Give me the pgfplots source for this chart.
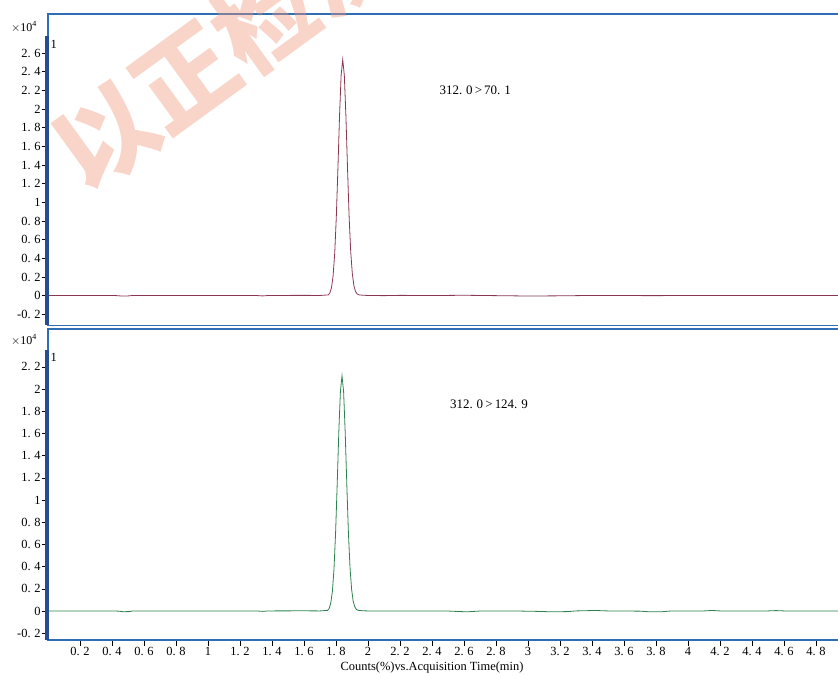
\documentclass[border=0pt]{standalone}
\usepackage{fontspec}
\setmainfont{Liberation Serif}
\newfontfamily\cjk{Noto Sans CJK SC}
\usepackage{pgfplots}
\usepackage{pgfplotstable}
\pgfplotsset{compat=1.18}
\definecolor{framecol}{RGB}{45,110,180}
\definecolor{barcol}{RGB}{40,75,150}
\definecolor{redtrace}{RGB}{140,55,80}
\definecolor{greentrace}{RGB}{45,130,80}
\definecolor{wm}{RGB}{240,150,120}
\newcommand{\dd}{.\hspace{0.3em}}

\pgfplotstableread{
x y
0.00 0.002
0.20 0.002
0.40 0.002
0.43 0.000
0.46 -0.004
0.50 -0.003
0.53 0.002
0.80 0.002
1.00 0.002
1.30 0.002
1.34 -0.003
1.38 0.002
1.60 0.003
1.70 0.002
1.752 0.008
1.762 0.030
1.772 0.088
1.782 0.214
1.792 0.455
1.802 0.845
1.812 1.365
1.822 1.923
1.832 2.362
1.842 2.530
1.852 2.362
1.862 1.923
1.872 1.365
1.882 0.845
1.892 0.470
1.902 0.235
1.912 0.105
1.922 0.045
1.932 0.018
1.945 0.008
1.97 0.004
2.00 0.002
2.10 0.000
2.20 0.003
2.40 0.001
2.60 0.004
2.80 0.000
3.00 -0.004
3.20 -0.002
3.40 0.002
3.60 0.001
3.80 0.000
4.00 0.002
4.20 0.002
4.50 0.001
4.90 0.002
5.00 0.002
}\toptrace

\pgfplotstableread{
x y
0.00 0.002
0.20 0.002
0.40 0.002
0.44 0.000
0.47 -0.005
0.51 -0.004
0.53 0.002
0.80 0.002
1.00 0.002
1.30 0.002
1.34 -0.002
1.38 0.002
1.60 0.003
1.70 0.002
1.7475 0.007
1.7575 0.025
1.7675 0.074
1.7775 0.179
1.7875 0.381
1.7975 0.708
1.8075 1.144
1.8175 1.611
1.8275 1.979
1.8375 2.120
1.8475 1.979
1.8575 1.611
1.8675 1.144
1.8775 0.708
1.8875 0.394
1.8975 0.197
1.9075 0.088
1.9175 0.038
1.9275 0.015
1.94 0.007
1.97 0.003
2.00 0.002
2.20 0.002
2.50 0.001
2.56 -0.003
2.62 -0.006
2.70 0.001
2.90 0.002
3.05 -0.002
3.15 -0.006
3.25 -0.004
3.30 0.002
3.42 0.006
3.50 0.002
3.70 0.000
3.76 -0.006
3.84 -0.005
3.90 0.002
4.10 0.002
4.15 0.006
4.20 0.002
4.50 0.002
4.55 0.005
4.60 0.002
4.90 0.002
5.00 0.002
}\bottomtrace

\begin{document}
\begin{tikzpicture}
\pgfplotsset{every axis/.append style={
  scale only axis, width=800bp, xmin=0, xmax=5,
  axis line style={framecol, line width=1.3bp},
  tick style={black, line width=0.6bp},
  tick align=outside, major tick length=6bp,
  ytick pos=left, xtick pos=bottom,
  ticklabel style={font=\fontsize{12.5}{14}\selectfont},
  yticklabel style={inner sep=1.2bp},
  xticklabel style={inner sep=1.5bp},
  /pgf/number format/assume math mode=true,
  clip=true,
}}

% top panel
\begin{axis}[name=top, at={(48bp,349.5bp)}, anchor=south west, height=311.5bp,
  ymin=-0.32, ymax=3.019,
  xtick=\empty,
  ytick={-0.2,0,0.2,0.4,0.6,0.8,1,1.2,1.4,1.6,1.8,2,2.2,2.4,2.6},
  yticklabels={-0\dd2,0,0\dd2,0\dd4,0\dd6,0\dd8,1,1\dd2,1\dd4,1\dd6,1\dd8,2,2\dd2,2\dd4,2\dd6},
]
\addplot[redtrace, line width=0.8bp] table[x=x,y=y] {\toptrace};
\node[font=\fontsize{13}{15}\selectfont] at (axis cs:2.67,2.205) {312\dd0\,>\,70\dd1};
\end{axis}

% bottom panel
\begin{axis}[name=bot, at={(48bp,35bp)}, anchor=south west, height=311bp,
  ymin=-0.26, ymax=2.542,
  ytick={-0.2,0,0.2,0.4,0.6,0.8,1,1.2,1.4,1.6,1.8,2,2.2},
  yticklabels={-0\dd2,0,0\dd2,0\dd4,0\dd6,0\dd8,1,1\dd2,1\dd4,1\dd6,1\dd8,2,2\dd2},
  xtick={0.2,0.4,0.6,0.8,1,1.2,1.4,1.6,1.8,2,2.2,2.4,2.6,2.8,3,3.2,3.4,3.6,3.8,4,4.2,4.4,4.6,4.8},
  xticklabels={0\dd2,0\dd4,0\dd6,0\dd8,1,1\dd2,1\dd4,1\dd6,1\dd8,2,2\dd2,2\dd4,2\dd6,2\dd8,3,3\dd2,3\dd4,3\dd6,3\dd8,4,4\dd2,4\dd4,4\dd6,4\dd8},
]
\addplot[greentrace, line width=0.8bp] table[x=x,y=y] {\bottomtrace};
\node[font=\fontsize{13}{15}\selectfont] at (axis cs:2.756,1.865) {312\dd0\,>\,124\dd9};
\end{axis}

% thick left bars
\draw[barcol, line width=3.8bp] (47bp,350bp) -- (47bp,639bp);
\draw[barcol, line width=3.8bp] (47bp,35bp) -- (47bp,325bp);

% headers and labels
\node[font=\fontsize{12}{13}\selectfont] at (24bp,648bp) {$\times$10\textsuperscript{4}};
\node[font=\fontsize{12}{13}\selectfont] at (24bp,335bp) {$\times$10\textsuperscript{4}};
\node[font=\fontsize{12.5}{14}\selectfont, anchor=west, inner sep=0pt] at (50.5bp,631bp) {1};
\node[font=\fontsize{12.5}{14}\selectfont, anchor=west, inner sep=0pt] at (50.5bp,318bp) {1};
\node[font=\fontsize{12.5}{14}\selectfont] at (432bp,7.5bp) {Counts(\%)vs.Acquisition Time(min)};

% watermark
\node[rotate=36, text=wm, text opacity=0.4, font=\cjk\bfseries\fontsize{100}{100}\selectfont] at (225bp,628bp) {以正检测};

\pgfresetboundingbox
\useasboundingbox (0bp,0bp) rectangle (838bp,675bp);
\end{tikzpicture}
\end{document}
